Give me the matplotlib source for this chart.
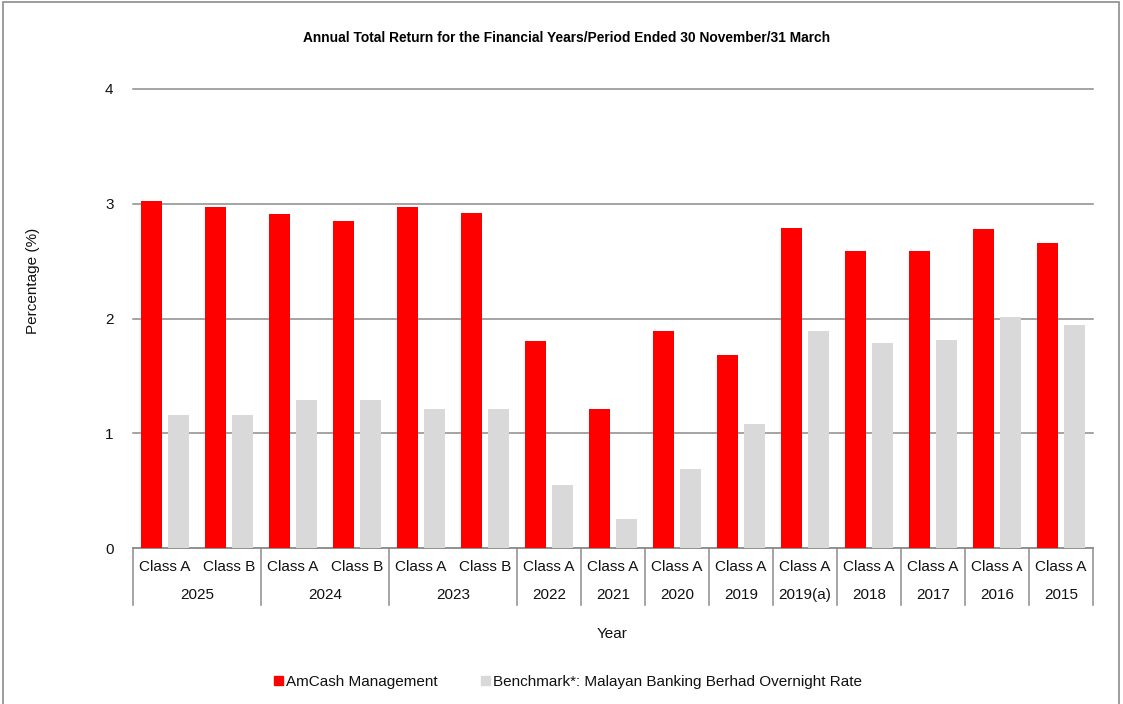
import matplotlib
matplotlib.use("Agg")
import matplotlib.pyplot as plt
from matplotlib.patches import Rectangle, Patch

plt.rcParams["font.family"] = ["Liberation Sans", "DejaVu Sans"]

# 데이터
sub_labels = ["Class A", "Class B", "Class A", "Class B", "Class A", "Class B",
              "Class A", "Class A", "Class A", "Class A", "Class A", "Class A",
              "Class A", "Class A", "Class A"]
group_labels = ["2025", "2024", "2023", "2022", "2021", "2020", "2019",
                "2019(a)", "2018", "2017", "2016", "2015"]
group_sizes = [2, 2, 2, 1, 1, 1, 1, 1, 1, 1, 1, 1]
fund = [3.02, 2.97, 2.91, 2.85, 2.97, 2.92, 1.80, 1.21, 1.89, 1.68,
        2.79, 2.59, 2.59, 2.78, 2.66]
bench = [1.16, 1.16, 1.29, 1.29, 1.21, 1.21, 0.55, 0.25, 0.69, 1.08,
         1.89, 1.79, 1.81, 2.01, 1.94]

RED, GREY, LINE = "#FF0000", "#D9D9D9", "#8C8C8C"
W, H = 1123, 704

fig = plt.figure(figsize=(W/100, H/100), dpi=100)
ax = fig.add_axes([133/W, 1-548/H, 960/W, 459/H])

n = len(fund)
xs = [i + 0.5 for i in range(n)]
ax.bar([x - 0.21 for x in xs], fund, width=0.34, color=RED, zorder=3)
ax.bar([x + 0.21 for x in xs], bench, width=0.33, color=GREY, zorder=3)

ax.set_xlim(0, n)
ax.set_ylim(0, 4)
ax.set_yticks([0, 1, 2, 3, 4])
ax.tick_params(axis="y", length=0, pad=14, labelsize=11, labelcolor="#111")
ax.set_xticks([])
ax.grid(axis="y", color=LINE, lw=1.1, zorder=0)
for gl in ax.get_ygridlines():
    gl.set_clip_on(False)
for s in ("left", "right", "top"):
    ax.spines[s].set_visible(False)
ax.spines["bottom"].set_color(LINE)
ax.spines["bottom"].set_linewidth(1.1)

# 다단 x축 라벨
tr = ax.get_xaxis_transform()
for x, lab in zip(xs, sub_labels):
    ax.text(x, -0.041, lab, transform=tr, ha="center", va="center", fontsize=11, color="#111")
pos = 0
ax.plot([0, 0], [0, -0.124], transform=tr, color=LINE, lw=1.1, clip_on=False)
for g, sz in zip(group_labels, group_sizes):
    ax.text(pos + sz/2, -0.102, g, transform=tr, ha="center", va="center", fontsize=11, color="#111")
    pos += sz
    ax.plot([pos, pos], [0, -0.124], transform=tr, color=LINE, lw=1.1, clip_on=False)

fig.text(567/W, 1-38/H, "Annual Total Return for the Financial Years/Period Ended 30 November/31 March",
         ha="center", va="center", fontsize=9.9, fontweight="bold",
         family=["Liberation Sans Narrow", "Liberation Sans"])
fig.text(33/W, 1-281/H, "Percentage (%)", rotation=90, ha="center", va="center", fontsize=11, color="#111")
fig.text(612/W, 1-634/H, "Year", ha="center", va="center", fontsize=11, color="#111")

handles = [Patch(color=RED), Patch(color=GREY)]
fig.legend(handles, ["AmCash Management", "Benchmark*: Malayan Banking Berhad Overnight Rate"],
           loc="center", bbox_to_anchor=(568/W, 1-682/H), ncol=2, frameon=False, fontsize=11,
           handlelength=0.6, handleheight=0.6, handletextpad=0.2, columnspacing=2.8,
           labelcolor="#111")

# 외곽 테두리
fig.add_artist(Rectangle((3/W, -0.05), 1116/W, 1.05 - 2/H, transform=fig.transFigure,
                         fill=False, ec="#8C8C8C", lw=1.2))

fig.savefig("out.png", dpi=100)
